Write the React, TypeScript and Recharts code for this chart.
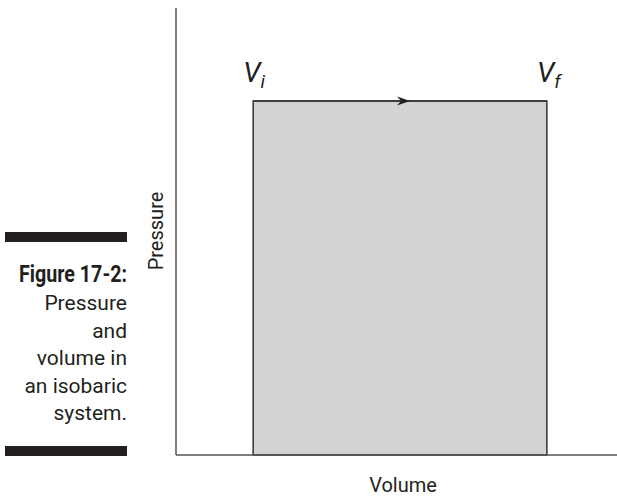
import {
  ComposedChart,
  Line,
  ReferenceArea,
  ReferenceDot,
  XAxis,
  YAxis
} from "recharts";

// isobaric process: volume goes from Vi to Vf at constant pressure
const volumes = [17.5, 84.1];
const pressure = 79.2;
const volumeLabels = ["i", "f"];
const captionTitle = "Figure 17-2:";
const captionLines = ["Pressure", "and", "volume in", "an isobaric", "system."];

const path = volumes.map((v) => ({ v, p: pressure }));

const ink = "#231f20";
const font = "Roboto, 'Liberation Sans', sans-serif";

function Arrowhead(props: any) {
  const { cx, cy } = props;
  return (
    <path
      d={`M${cx + 10},${cy} L${cx - 3},${cy - 4.5} L${cx + 1},${cy} L${cx - 3},${cy + 4.5} Z`}
      fill={ink}
    />
  );
}

function VolumeLabel(sub: string) {
  return (props: any) => {
    const { cx, cy } = props;
    return (
      <text
        x={cx - 10}
        y={cy - 19}
        fill={ink}
        fontFamily={font}
        fontStyle="italic"
        fontSize={28}
      >
        V
        <tspan fontSize={19} dy={6}>
          {sub}
        </tspan>
      </text>
    );
  };
}

export default function App() {
  return (
    <div style={{ position: "absolute", left: 0, top: 0, width: 617, height: 496 }}>
      <ComposedChart
        width={617}
        height={496}
        data={path}
        margin={{ top: 8, right: 0, left: 0, bottom: 0 }}
      >
        <XAxis
          type="number"
          dataKey="v"
          domain={[0, 100]}
          tick={false}
          tickLine={false}
          height={41}
          axisLine={{ stroke: "#555", strokeWidth: 1.5 }}
        />
        <YAxis
          type="number"
          domain={[0, 100]}
          tick={false}
          tickLine={false}
          width={176}
          axisLine={{ stroke: "#555", strokeWidth: 1.5 }}
        />
        <ReferenceArea
          x1={volumes[0]}
          x2={volumes[1]}
          y1={0}
          y2={pressure}
          fill="#d1d3d4"
          fillOpacity={1}
          stroke="#333"
          strokeWidth={1.5}
        />
        <Line
          type="linear"
          dataKey="p"
          stroke="#333"
          strokeWidth={1.5}
          dot={false}
          isAnimationActive={false}
        />
        <ReferenceDot
          x={(volumes[0] + volumes[1]) / 2}
          y={pressure}
          shape={Arrowhead}
        />
        {volumes.map((v, i) => (
          <ReferenceDot key={v} x={v} y={pressure} shape={VolumeLabel(volumeLabels[i])} />
        ))}
      </ComposedChart>
      <svg
        width={617}
        height={496}
        style={{ position: "absolute", left: 0, top: 0, pointerEvents: "none" }}
      >
        <text x={403} y={492} textAnchor="middle" fill={ink} fontFamily={font} fontSize={20}>
          Volume
        </text>
        <text
          transform="translate(163,231) rotate(-90)"
          textAnchor="middle"
          fill={ink}
          fontFamily={font}
          fontSize={20}
        >
          Pressure
        </text>
        <rect x={5} y={232} width={122} height={10} fill={ink} />
        <text
          x={127}
          y={282}
          textAnchor="end"
          fill={ink}
          fontFamily={font}
          fontWeight="bold"
          fontSize={23}
          textLength={108}
          lengthAdjust="spacingAndGlyphs"
        >
          {captionTitle}
        </text>
        {captionLines.map((line, i) => (
          <text
            key={line}
            x={127}
            y={310 + i * 27.6}
            textAnchor="end"
            fill={ink}
            fontFamily={font}
            fontSize={21}
          >
            {line}
          </text>
        ))}
        <rect x={5} y={446} width={122} height={10} fill={ink} />
      </svg>
    </div>
  );
}
